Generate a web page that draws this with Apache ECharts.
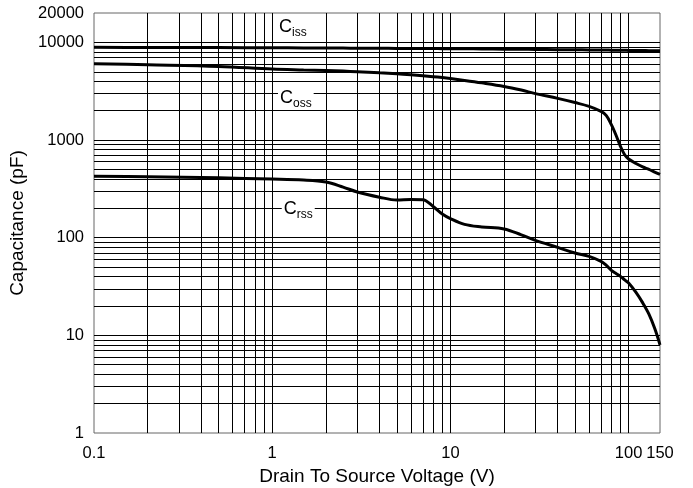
<!DOCTYPE html>
<html>
<head>
<meta charset="utf-8">
<script src="https://cdn.jsdelivr.net/npm/echarts@6/dist/echarts.min.js"></script>
<style>
html,body{margin:0;padding:0;background:#fff;}
#chart{width:693px;height:488px;}
</style>
</head>
<body>
<div id="chart"></div>
<script>
// Drain-source voltage samples (V)
const voltage = [0.1, 0.2, 0.5, 1, 1.5, 2, 2.5, 3, 4, 5, 6, 7, 8, 9, 10, 12, 15, 20, 25, 30, 40, 50, 60, 70, 75, 80, 85, 90, 95, 100, 110, 120, 130, 140, 150];
// Capacitances (pF)
const ciss = [8900, 8880, 8850, 8800, 8780, 8760, 8740, 8720, 8700, 8680, 8660, 8650, 8640, 8630, 8620, 8600, 8570, 8530, 8500, 8470, 8430, 8400, 8370, 8350, 8340, 8330, 8320, 8300, 8290, 8280, 8260, 8250, 8230, 8220, 8200];
const coss = [6050, 5900, 5680, 5340, 5230, 5160, 5080, 5010, 4880, 4780, 4670, 4560, 4460, 4360, 4260, 4080, 3850, 3540, 3250, 2990, 2670, 2420, 2210, 1965, 1780, 1436, 1120, 861, 708, 640, 575, 530, 500, 470, 445];
const crss = [425, 421, 410, 399, 390, 372, 330, 294, 260, 243, 246, 245, 209, 175, 157, 137, 129, 123, 107, 94, 79.6, 69.7, 64.4, 57.2, 52, 46.2, 43, 40.2, 37, 34.3, 27.5, 21.5, 16.5, 11.8, 8];
// Tick labels
const xTicks = [0.1, 1, 10, 100, 150];
const yTicks = [1, 10, 100, 1000, 10000, 20000];
// Grid lines
const xGrid = [0.2, 0.3, 0.4, 0.5, 0.6, 0.7, 0.8, 0.9, 1, 2, 3, 4, 5, 6, 7, 8, 9, 10, 20, 30, 40, 50, 60, 70, 80, 90, 100];
const yGrid = [2, 3, 4, 5, 6, 7, 8, 9, 10, 20, 30, 40, 50, 60, 70, 80, 90, 100, 200, 300, 400, 500, 600, 700, 800, 900, 1000, 2000, 3000, 4000, 5000, 6000, 7000, 8000, 9000, 10000];
// Curve labels
const curveSubs = ['iss', 'oss', 'rss'];
const curveLabelV = [1.305, 1.357, 1.40];
const curveLabelC = [14000, 2652, 192];

const FONT = 'Liberation Sans, Arial, sans-serif';
const pair = (xs, ys) => xs.map((x, i) => [x, ys[i]]);

const chart = echarts.init(document.getElementById('chart'), null, {renderer: 'canvas'});

const curve = (name, vals) => ({
  name, type: 'line', data: pair(voltage, vals), symbol: 'none', smooth: 0.35,
  lineStyle: {color: '#000', width: 3}, z: 5, silent: true, emphasis: {disabled: true}
});

chart.setOption({
  animation: false,
  backgroundColor: '#fff',
  textStyle: {fontFamily: FONT},
  grid: {left: 94, right: 33, top: 13, bottom: 55, show: true, borderColor: '#666', borderWidth: 1, backgroundColor: 'transparent', containLabel: false, outerBoundsMode: 'none'},
  xAxis: {
    type: 'log', logBase: 10, min: 0.1, max: 150,
    name: 'Drain To Source Voltage (V)', nameLocation: 'middle', nameGap: 34,
    nameTextStyle: {fontSize: 19, color: '#000', fontFamily: FONT},
    axisLine: {show: false}, axisTick: {show: false}, splitLine: {show: false},
    axisLabel: {customValues: xTicks, fontSize: 16.5, color: '#000', margin: 12, fontFamily: FONT,
      formatter: v => String(Math.round(v * 10) / 10)}
  },
  yAxis: {
    type: 'log', logBase: 10, min: 1, max: 20000,
    name: 'Capacitance (pF)', nameLocation: 'middle', nameGap: 56,
    nameTextStyle: {fontSize: 19, color: '#000', fontFamily: FONT},
    axisLine: {show: false}, axisTick: {show: false}, splitLine: {show: false},
    axisLabel: {customValues: yTicks, fontSize: 16.5, color: '#000', margin: 10, fontFamily: FONT,
      formatter: v => String(Math.round(v))}
  },
  series: [
    {
      name: 'grid', type: 'line', data: [], z: 1, silent: true,
      markLine: {
        silent: true, symbol: ['none', 'none'], animation: false,
        label: {show: false},
        lineStyle: {color: '#000', width: 1, type: 'solid'},
        emphasis: {disabled: true},
        data: xGrid.map(v => ({xAxis: v})).concat(yGrid.map(v => ({yAxis: v})))
      }
    },
    curve('Ciss', ciss),
    curve('Coss', coss),
    curve('Crss', crss),
    {
      name: 'labels', type: 'line', data: [], z: 10, silent: true,
      markPoint: {
        silent: true, animation: false, symbol: 'rect', symbolSize: 0,
        data: curveSubs.map((s, i) => ({
          coord: [curveLabelV[i], curveLabelC[i]],
          label: {
            show: true, position: 'inside',
            formatter: '{c|C}{s|' + s + '}',
            backgroundColor: '#fff', padding: [1, 2, 1, 2],
            rich: {
              c: {fontSize: 18, lineHeight: 20, verticalAlign: 'top', color: '#000', fontFamily: FONT},
              s: {fontSize: 12, lineHeight: 12, padding: [9, 0, 0, 0], verticalAlign: 'top', color: '#000', fontFamily: FONT}
            }
          }
        }))
      }
    }
  ]
});
</script>
</body>
</html>
